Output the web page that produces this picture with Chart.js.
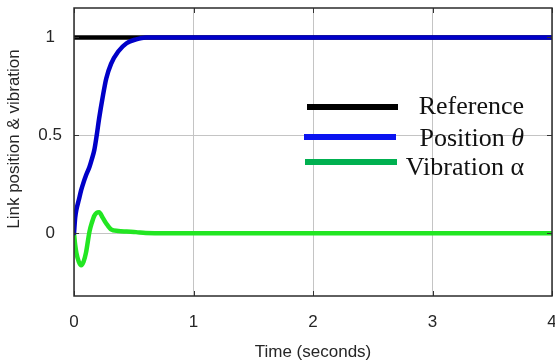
<!DOCTYPE html>
<html><head><meta charset="utf-8">
<script src="https://cdn.jsdelivr.net/npm/chart.js@4.4.1/dist/chart.umd.min.js"></script>
<style>html,body{margin:0;padding:0;background:#fff}canvas{display:block}</style>
</head><body>
<canvas id="c" width="555" height="363"></canvas>
<script>
// ---- data ----
const timeSec        = [0, 0.01, 0.02, 0.04, 0.06, 0.08, 0.10, 0.13, 0.15, 0.17, 0.19, 0.21, 0.24, 0.27, 0.31, 0.37, 0.44, 0.52, 0.60, 1, 2, 3, 4];
const referenceSignal= [1, 1, 1, 1, 1, 1, 1, 1, 1, 1, 1, 1, 1, 1, 1, 1, 1, 1, 1, 1, 1, 1, 1];
const positionTheta  = [0, 0.08, 0.12, 0.17, 0.22, 0.26, 0.295, 0.34, 0.38, 0.425, 0.50, 0.585, 0.695, 0.79, 0.865, 0.928, 0.97, 0.99, 1.0, 1, 1, 1, 1];
const vibrationAlpha = [0, -0.06, -0.10, -0.145, -0.163, -0.145, -0.10, 0.01, 0.055, 0.09, 0.105, 0.108, 0.08, 0.05, 0.02, 0.012, 0.009, 0.006, 0.002, 0, 0, 0, 0];
const xTickValues = [0, 1, 2, 3, 4];
const yTickValues = [0, 0.5, 1];
const seriesLabels = ['Reference', 'Position θ', 'Vibration α'];
const xTitle = 'Time (seconds)';
const yTitle = 'Link position & vibration';

const toPoints = ys => timeSec.map((t, i) => ({x: t, y: ys[i]}));
const legendColors = ['#000000', '#0a14f0', '#00b050'];

const framePlugin = {
  id: 'frameAndLegend',
  afterDatasetsDraw(chart) {
    const {ctx, chartArea: a, scales} = chart;
    ctx.save();
    // inner tick marks
    ctx.strokeStyle = '#333';
    ctx.lineWidth = 1;
    xTickValues.forEach(v => {
      const x = Math.round(scales.x.getPixelForValue(v)) + 0.5;
      ctx.beginPath(); ctx.moveTo(x, a.bottom); ctx.lineTo(x, a.bottom - 5);
      ctx.moveTo(x, a.top); ctx.lineTo(x, a.top + 5); ctx.stroke();
    });
    yTickValues.forEach(v => {
      const y = Math.round(scales.y.getPixelForValue(v)) + 0.5;
      ctx.beginPath(); ctx.moveTo(a.left, y); ctx.lineTo(a.left + 5, y);
      ctx.moveTo(a.right, y); ctx.lineTo(a.right - 5, y); ctx.stroke();
    });
    // frame
    ctx.strokeStyle = '#2b2b2b';
    ctx.lineWidth = 1.5;
    ctx.strokeRect(a.left, a.top, a.right - a.left, a.bottom - a.top);

    // legend (inside plot, no box)
    const rows = [
      {lineX0: 307, lineX1: 398, lineY: 107, base: 114},
      {lineX0: 304, lineX1: 396, lineY: 137, base: 146},
      {lineX0: 305, lineX1: 397, lineY: 162, base: 175}
    ];
    const rightX = 524;
    rows.forEach((r, i) => {
      ctx.strokeStyle = legendColors[i];
      ctx.lineWidth = 6;
      ctx.lineCap = 'butt';
      ctx.beginPath(); ctx.moveTo(r.lineX0, r.lineY); ctx.lineTo(r.lineX1, r.lineY); ctx.stroke();
      ctx.fillStyle = '#111';
      ctx.textBaseline = 'alphabetic';
      ctx.textAlign = 'left';
      const label = seriesLabels[i];
      if (label.endsWith('θ')) {
        const head = label.slice(0, -1);
        ctx.font = 'italic 26px "Liberation Serif", "Times New Roman", serif';
        const wSym = ctx.measureText('θ').width;
        ctx.font = '26px "Liberation Serif", "Times New Roman", serif';
        const wHead = ctx.measureText(head).width;
        const x0 = rightX - wSym - wHead;
        ctx.fillText(head, x0, r.base);
        ctx.font = 'italic 26px "Liberation Serif", "Times New Roman", serif';
        ctx.fillText('θ', x0 + wHead, r.base);
      } else {
        ctx.font = '26px "Liberation Serif", "Times New Roman", serif';
        ctx.textAlign = 'right';
        ctx.fillText(label, rightX, r.base);
      }
    });

    // y axis title
    ctx.save();
    ctx.translate(14, 139);
    ctx.rotate(-Math.PI / 2);
    ctx.font = '17px "Liberation Sans", Arial, sans-serif';
    ctx.fillStyle = '#262626';
    ctx.textAlign = 'center';
    ctx.textBaseline = 'middle';
    ctx.fillText(yTitle, 0, 0);
    ctx.restore();
    ctx.restore();
  }
};

new Chart(document.getElementById('c'), {
  type: 'line',
  data: {
    datasets: [
      {label: seriesLabels[1], data: toPoints(positionTheta), borderColor: '#0000c8', borderWidth: 4.5, order: 0},
      {label: seriesLabels[0], data: toPoints(referenceSignal), borderColor: '#000000', borderWidth: 4.5, order: 1},
      {label: seriesLabels[2], data: toPoints(vibrationAlpha), borderColor: '#22e622', borderWidth: 4.5, order: 2}
    ]
  },
  options: {
    responsive: false,
    animation: false,
    devicePixelRatio: 1,
    layout: {padding: {left: 0, top: 8, right: 3, bottom: 0}},
    elements: {
      point: {radius: 0},
      line: {cubicInterpolationMode: 'monotone', borderCapStyle: 'round', borderJoinStyle: 'round'}
    },
    plugins: {legend: {display: false}, tooltip: {enabled: false}},
    scales: {
      x: {
        type: 'linear', min: 0, max: 4,
        afterBuildTicks: s => { s.ticks = xTickValues.map(v => ({value: v})); },
        afterFit: s => { s.height = 67; s.paddingLeft = 0; s.paddingRight = 0; },
        grid: {color: '#c4c4c4', lineWidth: 1, drawTicks: false},
        border: {display: false},
        ticks: {padding: 16, color: '#262626', font: {family: '"Liberation Sans", Arial, sans-serif', size: 17}, maxRotation: 0, callback: v => String(v)},
        title: {display: true, text: xTitle, color: '#262626', font: {family: '"Liberation Sans", Arial, sans-serif', size: 17}, padding: {top: 0, bottom: 0}}
      },
      y: {
        type: 'linear', min: -0.32, max: 1.15,
        afterBuildTicks: s => { s.ticks = yTickValues.map(v => ({value: v})); },
        afterFit: s => { s.width = 74; s.paddingTop = 0; s.paddingBottom = 0; },
        grid: {color: '#c4c4c4', lineWidth: 1, drawTicks: false},
        border: {display: false},
        ticks: {padding: 12, crossAlign: 'center', color: '#262626', font: {family: '"Liberation Sans", Arial, sans-serif', size: 17}, callback: v => String(v)}
      }
    }
  },
  plugins: [framePlugin]
});
</script>
</body></html>
